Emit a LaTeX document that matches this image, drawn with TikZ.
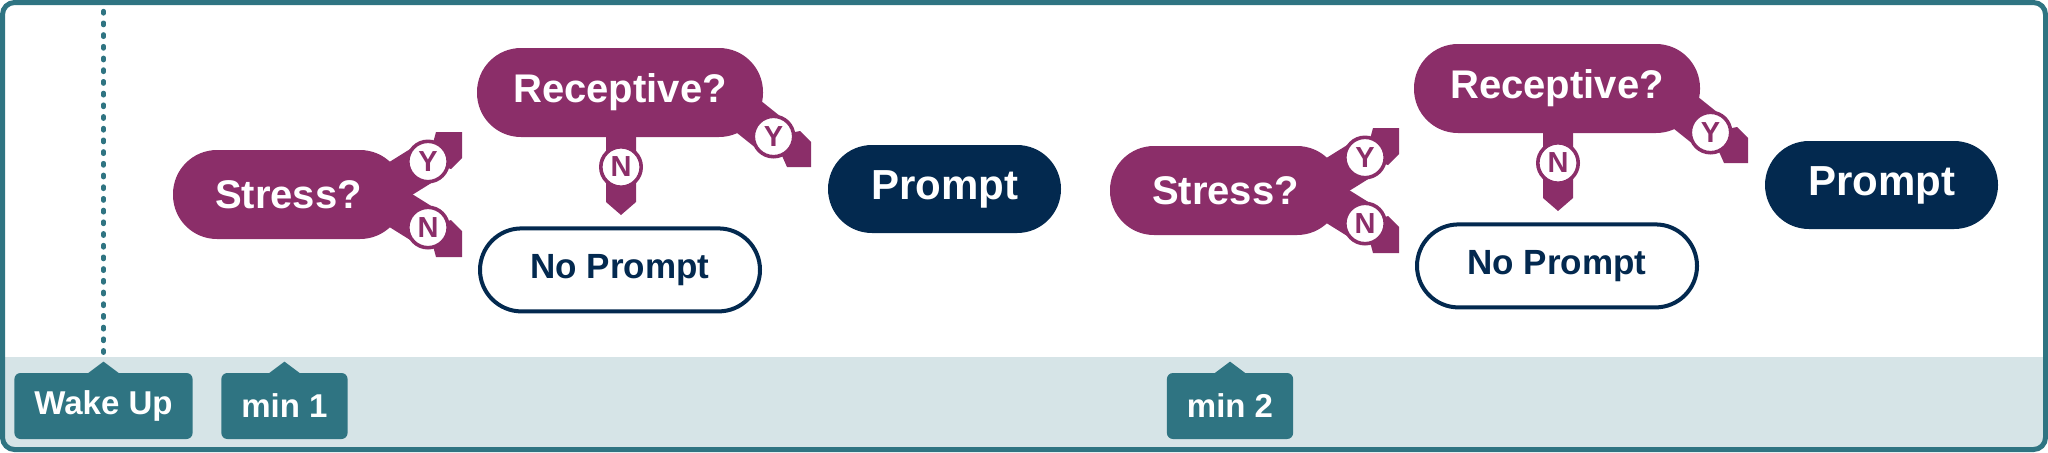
\documentclass[tikz,border=0pt]{standalone}
\usepackage{fontspec}
\setmainfont{Liberation Sans}
\usepackage{xcolor}
\usepackage{tikz}
\usetikzlibrary{positioning,calc,backgrounds}

\definecolor{plum}{HTML}{8B2E69}
\definecolor{navy}{HTML}{03294F}
\definecolor{tealc}{HTML}{2F7482}
\definecolor{bandc}{HTML}{D6E4E7}

\begin{document}
\begin{tikzpicture}[
  x=0.5pt, y=-0.5pt,
  ask/.style={fill=plum, text=white, rounded corners=22pt, minimum height=44.5pt, inner sep=0pt, font=\bfseries\fontsize{20}{24}\selectfont},
  prompt/.style={fill=navy, text=white, rounded corners=22pt, minimum width=116.5pt, minimum height=44pt, inner sep=0pt, font=\bfseries\fontsize{21}{25}\selectfont},
  idle/.style={draw=navy, line width=2pt, fill=white, text=navy, rounded corners=20.75pt, minimum width=140pt, minimum height=41.5pt, inner sep=0pt, font=\bfseries\fontsize{17.5}{21}\selectfont},
  choice/.style={circle, fill=white, draw=plum, line width=1.8pt, minimum size=20.2pt, inner sep=0pt, text=plum, font=\bfseries\fontsize{14.5}{16}\selectfont},
  neck/.style={plum, line width=20pt},
  tag/.style={fill=tealc, text=white, rounded corners=3pt, minimum width=63pt, minimum height=33pt, inner xsep=10pt, font=\bfseries\fontsize{16.5}{20}\selectfont},
  wakeline/.style={tealc, line width=2.2pt, line cap=round, dash pattern=on 1.2pt off 4.65pt, shorten >=9pt}
]
\useasboundingbox (0,0) rectangle (2048,452);
\begin{scope}
  \clip[rounded corners=6pt] (2.5,2.5) rectangle (2045.5,449.5);
  \fill[bandc] (0,357) rectangle (2048,452);
\end{scope}
\draw[tealc, line width=2.5pt, rounded corners=6pt] (2.5,2.5) rectangle (2045.5,449.5);

\node[tag] (wake) at (103.5,406) {Wake Up};
\node[tag, right=14pt of wake] (min1) {min 1};
\node[tag] (min2) at (1230,406) {min 2};
\foreach \t in {wake,min1,min2}
  \fill[tealc] (\t.north) ++(-16,1) -- ++(16,-12) -- ++(16,12) -- cycle;
\coordinate (wtop) at (103.5,11);
\draw[wakeline] (wtop) -- (wake);

\foreach \g/\dx/\dy in {1/0/0,2/937/-4}{
\begin{scope}[shift={(\dx,\dy)}]
  \node[ask, minimum width=115.5pt] (stress\g) at (288.5,194.5) {Stress?};
  \node[ask, minimum width=143pt] (recep\g) at (620,92.5) {Receptive?};
  \node[idle, below=44.5pt of recep\g] (none\g) {No Prompt};
  \node[prompt] (prompt\g) at (944.5,189) {Prompt};
  \node[choice] (sy\g) at ($(stress\g)+(139.5,-33)$) {Y};
  \node[choice] (sn\g) at ($(stress\g)+(139.5,33)$) {N};
  \node[choice] (rn\g) at ($(recep\g)+(1,74.5)$) {N};
  \node[choice] (ry\g) at ($(recep\g)+(153.5,44)$) {Y};
  \coordinate (sneck\g) at ($(stress\g)+(86.5,0)$);
  \coordinate (rneck\g) at ($(recep\g)+(98.5,0)$);
  \coordinate (sytab\g) at ($(stress\g)+(173.5,-62.5)$);
  \coordinate (sntab\g) at ($(stress\g)+(173.5,62.5)$);
  \coordinate (rytab\g) at ($(recep\g)+(191,74.5)$);
  \begin{scope}[on background layer]
    \draw[neck] (sneck\g) -- (sy\g.center);
    \draw[neck] (sneck\g) -- (sn\g.center);
    \draw[neck] (rneck\g) -- (ry\g.center);
    \fill[plum] (sytab\g) -- ++(-26,0) -- (sy\g.center) -- ($(sytab\g)+(-11,37)$) -- ($(sytab\g)+(0,26)$) -- cycle;
    \fill[plum] (sntab\g) -- ++(-26,0) -- (sn\g.center) -- ($(sntab\g)+(-11,-37)$) -- ($(sntab\g)+(0,-26)$) -- cycle;
    \fill[plum] (rytab\g) -- ++(0,-25) -- ++(-11,-11) -- (ry\g.center) -- ($(rytab\g)+(-24,0)$) -- cycle;
    \fill[plum] (recep\g.center) ++(-14,0) -- ++(30,0) -- ++(0,109.5) -- ++(-15,13) -- ++(-15,-13) -- cycle;
  \end{scope}
\end{scope}}
\end{tikzpicture}
\end{document}
